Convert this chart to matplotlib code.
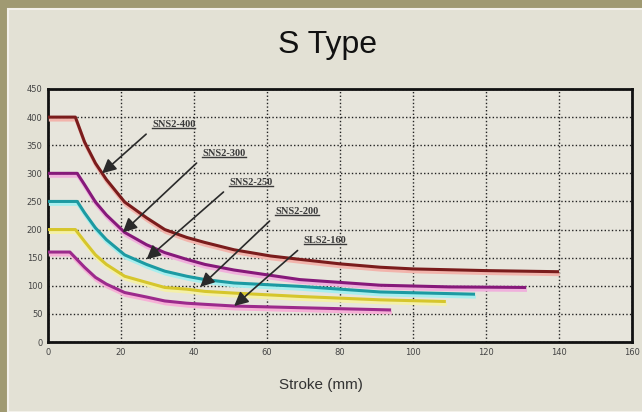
import matplotlib
matplotlib.use("Agg")
import matplotlib.pyplot as plt
import matplotlib.patheffects as pe
import matplotlib.text as mtext
from matplotlib.patches import Rectangle

# curves: stroke (mm) vs force
stroke_400 = [0, 7.5, 10, 13, 16, 21, 27, 32, 38, 43, 51, 61, 69, 80, 91, 100, 120, 140]
force_400 = [400, 400, 356, 318, 289, 249, 221, 200, 186, 177, 164, 153, 147, 139, 133, 130, 127, 125]

stroke_300 = [0, 8, 10, 13, 16, 21, 27, 32, 38, 43, 51, 69, 91, 110, 131]
force_300 = [300, 300, 280, 249, 226, 195, 173, 159, 147, 138, 128, 111, 101, 98, 97]

stroke_250 = [0, 8, 10, 13, 16, 21, 27, 32, 38, 43, 51, 69, 91, 117]
force_250 = [250, 250, 230, 203, 182, 155, 138, 126, 117, 111, 105, 99, 89, 85]

stroke_200 = [0, 7.5, 10, 13, 16, 21, 27, 32, 38, 43, 51, 69, 91, 109]
force_200 = [200, 200, 179, 155, 138, 117, 106, 97, 94, 90, 87, 81, 75, 72]

stroke_160 = [0, 6, 10, 13, 16, 21, 27, 32, 38, 43, 51, 69, 94]
force_160 = [160, 160, 133, 115, 103, 88, 80, 73, 69, 67, 64, 61, 57]

labels = ["SNS2-400", "SNS2-300", "SNS2-250", "SNS2-200", "SLS2-160"]
label_xy = [(28.5, 379), (42.3, 328), (49.7, 276), (62.3, 225), (70, 172)]
arrow_tips = [(14.8, 300), (20.5, 195), (27, 147), (41.7, 98), (51, 64)]

x_ticks = [0, 20, 40, 60, 80, 100, 120, 140, 160]
y_ticks = [0, 50, 100, 150, 200, 250, 300, 350, 400, 450]

series = [
    (stroke_400, force_400, "#7a1c1c", "#f2b4ac"),
    (stroke_300, force_300, "#86197a", "#f0b0dc"),
    (stroke_250, force_250, "#1c9aa2", "#a6eeee"),
    (stroke_200, force_200, "#d6c62c", "#f4f0a8"),
    (stroke_160, force_160, "#9c2a8c", "#f6b0d6"),
]

fig = plt.figure(figsize=(6.42, 4.12), dpi=100)
fig.patch.set_facecolor("#a09a72")
fig.patches.append(Rectangle((8 / 642, 0), 1, 1 - 9 / 412, transform=fig.transFigure,
                             facecolor="#e3e1d5", edgecolor="#f3f1ea", lw=1.5, zorder=-5))

ax = fig.add_axes([48 / 642, 1 - 342 / 412, 584 / 642, 253 / 412])
ax.set_facecolor("#e7e5dc")

for xs, ys, c, sh in series:
    ax.plot(xs, ys, color=c, lw=2.2, solid_capstyle="butt", zorder=3,
            path_effects=[pe.SimpleLineShadow(offset=(0.6, -2), shadow_color=sh, alpha=1, linewidth=2.4),
                          pe.Normal()])

texts = []
for lab, (tx, ty), (hx, hy) in zip(labels, label_xy, arrow_tips):
    t = ax.annotate(lab, xy=(hx, hy), xytext=(tx, ty), textcoords="data",
                    ha="left", va="bottom", fontsize=7.5, fontweight="bold",
                    family="Liberation Serif", color="#3a3a3a", zorder=5,
                    arrowprops=dict(arrowstyle="-|>,head_length=0.7,head_width=0.35",
                                    color="#2a2a2a", lw=1.2, relpos=(0, 0),
                                    shrinkA=3, shrinkB=0, mutation_scale=12))
    texts.append(t)

ax.set_xlim(0, 160)
ax.set_ylim(0, 450)
ax.set_xticks(x_ticks)
ax.set_yticks(y_ticks)
ax.tick_params(length=0, labelsize=6, labelcolor="#444444", pad=4)
ax.grid(True, color="#222222", ls=(0, (1, 1.6)), lw=1.0)
ax.set_axisbelow(True)
for s in ax.spines.values():
    s.set_linewidth(2)
    s.set_color("#111111")

fig.text(0.51, 1 - 45 / 412, "S Type", fontsize=23, ha="center", va="center",
         family="Liberation Sans", color="#111111")
fig.text(0.50, 1 - 385 / 412, "Stroke (mm)", fontsize=11, ha="center", va="center",
         family="Liberation Sans", color="#333333")

# underline the labels (text box only, not the arrow)
fig.canvas.draw()
renderer = fig.canvas.get_renderer()
inv = ax.transAxes.inverted()
for t in texts:
    bb = mtext.Text.get_window_extent(t, renderer)
    (x0, y0), (x1, _) = inv.transform([(bb.x0, bb.y0 + 1), (bb.x1, bb.y0 + 1)])
    ax.plot([x0, x1], [y0, y0], transform=ax.transAxes, color="#3a3a3a", lw=1, zorder=5)

fig.savefig("out.png", dpi=100, facecolor=fig.get_facecolor())
